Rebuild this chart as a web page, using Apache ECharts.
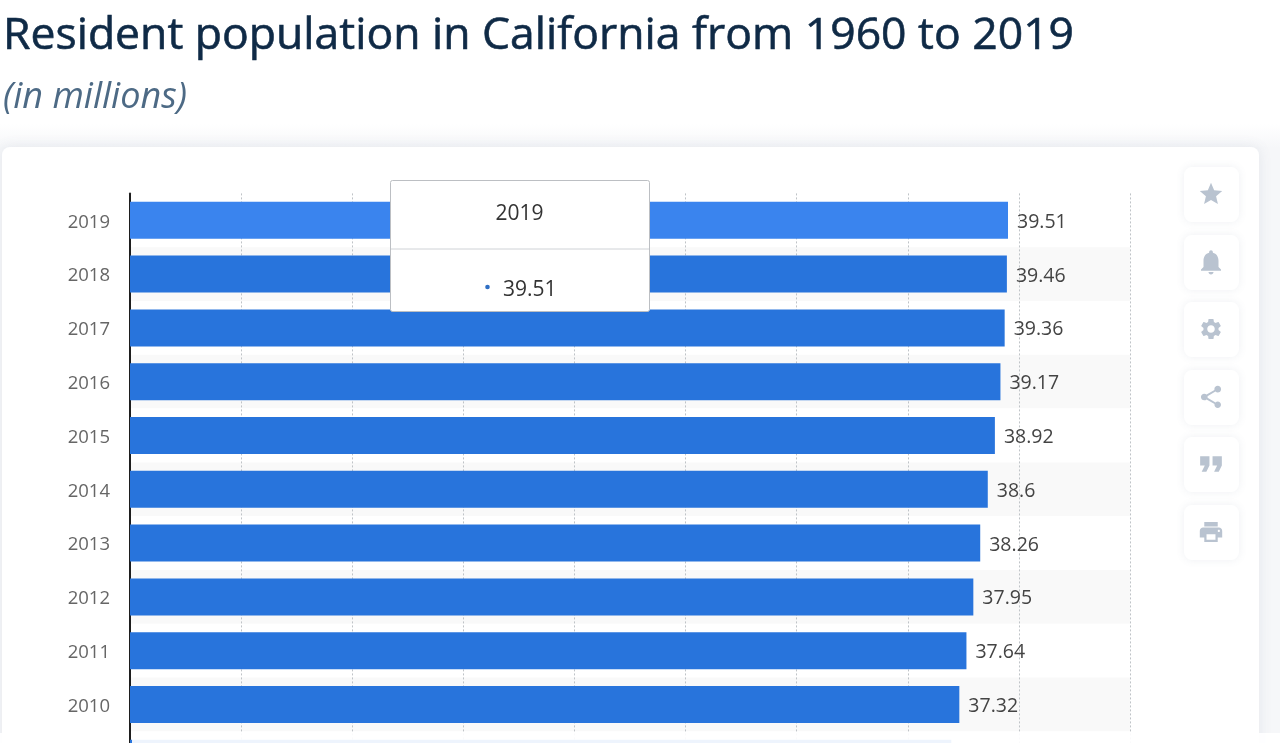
<!DOCTYPE html>
<html><head><meta charset="utf-8">
<style>html,body{margin:0;padding:0;background:#fff;overflow:hidden;height:743px}#c{width:1280px;height:800px}</style>
<script src="https://cdn.jsdelivr.net/npm/echarts@6/dist/echarts.min.js"></script>
</head><body><div id="c"></div>
<script>
const titleText = 'Resident population in California from 1960 to 2019';
const subtitleText = '(in millions)';
const years = ['2019','2018','2017','2016','2015','2014','2013','2012','2011','2010','2009'];
const population = [39.51,39.46,39.36,39.17,38.92,38.6,38.26,37.95,37.64,37.32,36.96];
const tooltipYear = '2019';
const tooltipValue = '39.51';
const F = '"Open Sans", sans-serif';
const iconPaths = [
 'M12 17.27L18.18 21l-1.64-7.03L22 9.24l-7.19-.61L12 2 9.19 8.63 2 9.24l5.46 4.73L5.82 21z',
 'M12 22c1.1 0 2-.9 2-2h-4c0 1.1.89 2 2 2zm6-6v-5c0-3.07-1.64-5.64-4.5-6.32V4c0-.83-.67-1.5-1.5-1.5s-1.5.67-1.5 1.5v.68C7.63 5.36 6 7.92 6 11v5l-2 2v1h16v-1l-2-2z',
 'M19.14 12.94c.04-.3.06-.61.06-.94 0-.32-.02-.64-.07-.94l2.03-1.58a.49.49 0 0 0 .12-.61l-1.92-3.32a.488.488 0 0 0-.59-.22l-2.39.96c-.5-.38-1.03-.7-1.62-.94l-.36-2.54a.484.484 0 0 0-.48-.41h-3.84c-.24 0-.43.17-.47.41l-.36 2.54c-.59.24-1.13.57-1.62.94l-2.39-.96c-.22-.08-.47 0-.59.22L2.74 8.87c-.12.21-.08.47.12.61l2.03 1.58c-.05.3-.09.63-.09.94s.02.64.07.94l-2.03 1.58a.49.49 0 0 0-.12.61l1.92 3.32c.12.22.37.29.59.22l2.39-.96c.5.38 1.03.7 1.62.94l.36 2.54c.05.24.24.41.48.41h3.84c.24 0 .44-.17.47-.41l.36-2.54c.59-.24 1.13-.56 1.62-.94l2.39.96c.22.08.47 0 .59-.22l1.92-3.32c.12-.22.07-.47-.12-.61l-2.01-1.58zM12 15.6c-1.98 0-3.6-1.62-3.6-3.6s1.62-3.6 3.6-3.6 3.6 1.62 3.6 3.6-1.62 3.6-3.6 3.6z',
 'M18 16.08c-.76 0-1.44.3-1.96.77L8.91 12.7c.05-.23.09-.46.09-.7s-.04-.47-.09-.7l7.05-4.11c.54.5 1.25.81 2.04.81 1.66 0 3-1.34 3-3s-1.34-3-3-3-3 1.34-3 3c0 .24.04.47.09.7L8.04 9.81C7.5 9.31 6.79 9 6 9c-1.66 0-3 1.34-3 3s1.34 3 3 3c.79 0 1.5-.31 2.04-.81l7.12 4.16c-.05.21-.08.43-.08.65 0 1.61 1.31 2.92 2.92 2.92 1.61 0 2.92-1.31 2.92-2.92s-1.31-2.92-2.92-2.92z',
 'M6 17h3l2-4V7H5v6h3zm8 0h3l2-4V7h-6v6h3z',
 'M19 8H5c-1.66 0-3 1.34-3 3v6h4v4h12v-4h4v-6c0-1.66-1.34-3-3-3zm-3 11H8v-5h8v5zm3-7c-.55 0-1-.45-1-1s.45-1 1-1 1 .45 1 1-.45 1-1 1zm-1-9H6v4h12V3z'
];
const iconCentersY = [194,262,329,397,464,532];
const iconScales = [1.12,1.25,1.05,1.12,1.55,1.12];

iconPaths.forEach((d,i)=>{
 echarts.graphic.registerShape('icon'+i, echarts.graphic.extendPath(d));
});

const graphics = [
 {type:'rect',z:-10,silent:true,shape:{x:0,y:124,width:1280,height:676},
  style:{fill:new echarts.graphic.LinearGradient(0,0,0,1,[{offset:0,color:'#ffffff'},{offset:0.035,color:'#f6f7f9'},{offset:1,color:'#f6f7f9'}])}},
 {type:'rect',z:-9,silent:true,shape:{x:2,y:147,width:1257,height:660,r:8},
  style:{fill:'#fff',shadowBlur:14,shadowColor:'rgba(90,110,140,0.12)'}},
 {type:'rect',z:100,silent:true,shape:{x:0,y:733,width:129,height:67},style:{fill:'rgba(255,255,255,0.92)'}},
 {type:'rect',z:100,silent:true,shape:{x:132,y:733,width:1148,height:67},style:{fill:'rgba(255,255,255,0.92)'}},
 {type:'rect',z:110,silent:true,shape:{x:390.5,y:180.5,width:259,height:131,r:2},
  style:{fill:'#fff',stroke:'#bcbfc3',lineWidth:1}},
 {type:'line',z:111,silent:true,shape:{x1:391,y1:249,x2:649,y2:249},style:{stroke:'#cfd2d6',lineWidth:1}},
 {type:'text',z:112,silent:true,x:519.5,y:214,style:{text:tooltipYear,font:'21px '+F,fill:'#333',align:'center',verticalAlign:'middle'}},
 {type:'circle',z:112,silent:true,shape:{cx:487.5,cy:287,r:2.3},style:{fill:'#2f6fc4'}},
 {type:'text',z:112,silent:true,x:503,y:290,style:{text:tooltipValue,font:'21px '+F,fill:'#333',align:'left',verticalAlign:'middle'}}
];
iconCentersY.forEach((cy,i)=>{
 const s = iconScales[i];
 graphics.push({type:'rect',z:20,silent:true,shape:{x:1184,y:cy-27,width:55,height:55,r:8},
  style:{fill:'#fff',shadowBlur:8,shadowColor:'rgba(90,110,140,0.1)'}});
 graphics.push({type:'icon'+i,z:21,silent:true,x:1211-12*s,y:cy-12*s,scaleX:s,scaleY:s,
  style:{fill:'#b9c3d0'}});
});

const chart = echarts.init(document.getElementById('c'),null,{renderer:'canvas'});
chart.setOption({
 animation:false,
 title:[
  {text:titleText,left:-2,top:9,textStyle:{fontFamily:F,fontSize:44.5,fontWeight:400,color:'#0f2a46',textBorderColor:'#0f2a46',textBorderWidth:0.6}},
  {text:subtitleText,left:-2,top:75,textStyle:{fontFamily:F,fontSize:36,fontWeight:400,fontStyle:'italic',color:'#4d6a85'}}
 ],
 grid:{left:130,top:193.4,width:1000,height:591.8,containLabel:false},
 xAxis:{type:'value',min:0,max:45,interval:5,position:'bottom',
  axisLine:{show:false},axisTick:{show:false},axisLabel:{show:false},
  splitLine:{show:true,lineStyle:{type:[2,2],color:'#bfc3c7',width:1}}},
 yAxis:{type:'category',inverse:true,data:years,
  axisLine:{show:true,onZero:false,lineStyle:{color:'#1e1e1e',width:2}},
  axisTick:{show:false},
  axisLabel:{margin:20,fontFamily:F,fontSize:18.5,color:'#666',verticalAlign:'top',lineHeight:4},
  splitArea:{show:true,areaStyle:{color:['#ffffff','#f9f9f9']}}},
 series:[{type:'bar',data:population.map((v,i)=>({value:v,itemStyle:{color:i===0?'#3a84ee':'#2874dc'}})),
  barWidth:37,
  label:{show:true,position:'right',distance:9,offset:[0,2],fontFamily:F,fontSize:19.5,color:'#444'}}],
 graphic:graphics
});
</script></body></html>
